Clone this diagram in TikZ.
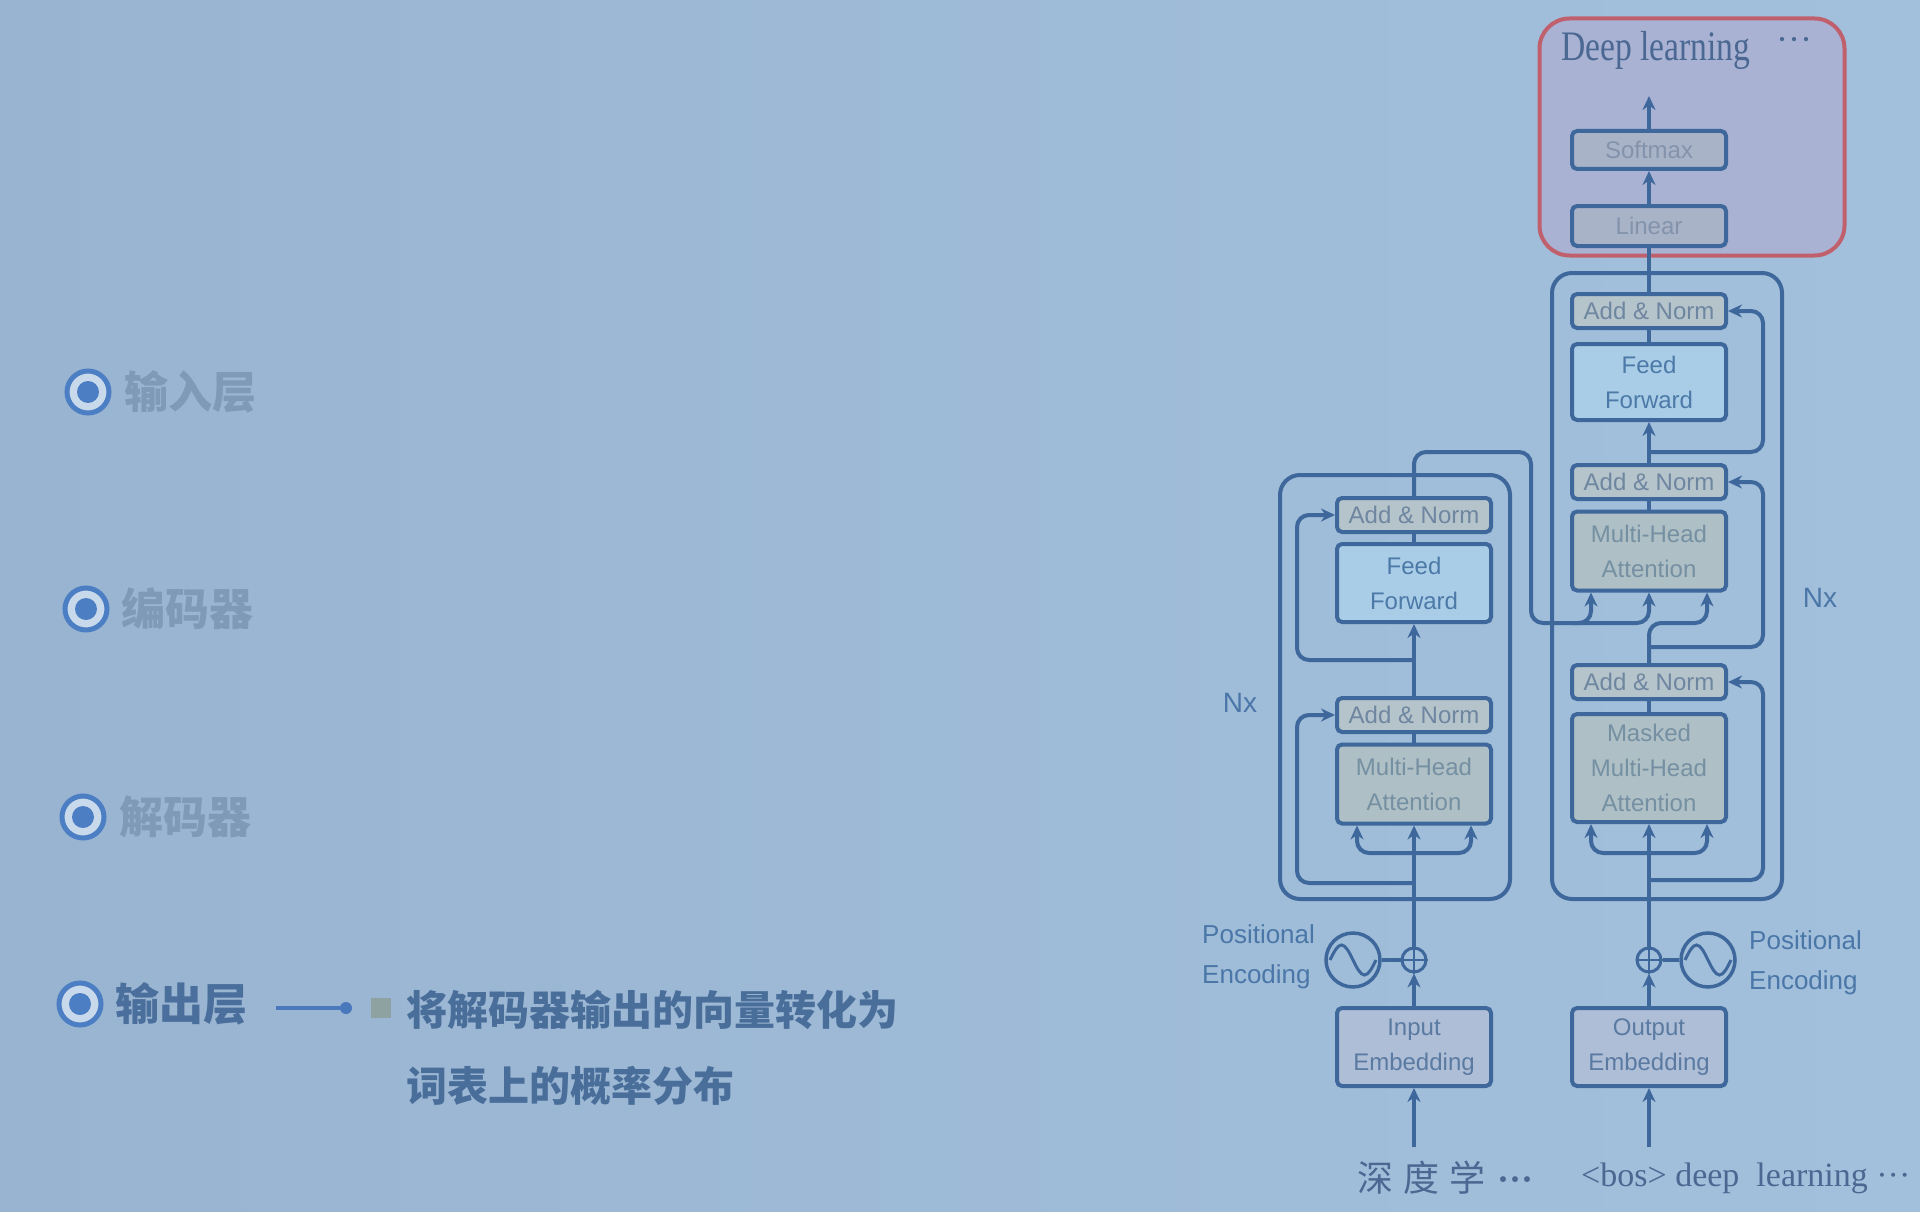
\documentclass[tikz,border=0pt]{standalone}
\usepackage{fontspec}
\setmainfont{Liberation Serif}
\newfontfamily\sansf{Liberation Sans}
\newfontfamily\serifn[FakeStretch=0.8]{Liberation Serif}
\newfontfamily\cjkf{Noto Sans CJK SC}
\usetikzlibrary{arrows.meta,calc}

\definecolor{bgL}{HTML}{99B4D1}
\definecolor{bgR}{HTML}{A2C0DC}
\definecolor{linec}{HTML}{3E679B}
\definecolor{anfill}{HTML}{B5C3CB}
\definecolor{antext}{HTML}{6E86A0}
\definecolor{fffill}{HTML}{A9CDE6}
\definecolor{fftext}{HTML}{4C79A8}
\definecolor{attfill}{HTML}{AEBFC5}
\definecolor{atttext}{HTML}{7590A2}
\definecolor{embfill}{HTML}{AEBED6}
\definecolor{embtext}{HTML}{5A7AA2}
\definecolor{outfill}{HTML}{A9B3C8}
\definecolor{outtext}{HTML}{8393AB}
\definecolor{redfill}{HTML}{A9B2D3}
\definecolor{redstroke}{HTML}{C0606C}
\definecolor{dltext}{HTML}{4A6892}
\definecolor{petext}{HTML}{4B77A8}
\definecolor{bulletblue}{HTML}{4C7EC3}
\definecolor{bulletin}{HTML}{C9D9EC}
\definecolor{labelgrey}{HTML}{7E9AB6}
\definecolor{labeldark}{HTML}{4A6F9C}
\definecolor{descblue}{HTML}{4A6E9A}
\definecolor{squaregrey}{HTML}{8EA2A2}
\definecolor{linkblue}{HTML}{4A78BC}

\begin{document}
\begin{tikzpicture}[x=1pt,y=-1pt,
  blk/.style={draw=linec, line width=4pt, rounded corners=5pt, minimum width=154pt,
    inner sep=0pt, font=\sansf\fontsize{24}{35}\selectfont, align=center},
  an/.style={blk, fill=anfill, text=antext, minimum height=34pt},
  ffbox/.style={blk, fill=fffill, text=fftext},
  att/.style={blk, fill=attfill, text=atttext},
  emb/.style={blk, fill=embfill, text=embtext, minimum height=78pt},
  outbox/.style={blk, fill=outfill, text=outtext},
  wire/.style={draw=linec, line width=4pt, rounded corners=12pt},
  arr/.style={wire, -{Stealth[length=14pt,width=13pt]}},
  frame/.style={draw=linec, line width=4pt, rounded corners=20pt},
  addc/.style={circle, draw=linec, line width=3pt, minimum size=24pt, inner sep=0pt},
  sinec/.style={circle, draw=linec, line width=3.5pt, minimum size=54pt, inner sep=0pt},
  side/.style={font=\sansf\fontsize{26}{40}\selectfont, text=petext, align=left, inner sep=0pt},
  ring/.style={circle, draw=bulletblue, line width=5pt, fill=bulletin, minimum size=42pt, inner sep=0pt},
  item/.style={anchor=west, inner sep=0pt, font=\cjkf\bfseries\fontsize{44}{44}\selectfont, text=labelgrey},
  desc/.style={anchor=west, inner sep=0pt, font=\cjkf\bfseries\fontsize{41}{41}\selectfont, text=descblue}
]
\useasboundingbox (0,0) rectangle (1920,1212);
\shade[left color=bgL, right color=bgR] (0,0) rectangle (1920,1212);

% ---- left column: list of parts ----
\node[ring] (b1) at (88,392) {};
\fill[bulletblue] (b1.center) circle (11pt);
\node[item] (l1) at (124,392) {输入层};
\node[ring] (b2) at (86,609) {};
\fill[bulletblue] (b2.center) circle (11pt);
\node[item] (l2) at (121,609) {编码器};
\node[ring] (b3) at (83,817) {};
\fill[bulletblue] (b3.center) circle (11pt);
\node[item] (l3) at (119,817) {解码器};
\node[ring] (b4) at (80,1004) {};
\fill[bulletblue] (b4.center) circle (11pt);
\node[item, text=labeldark] (l4) at (115,1004) {输出层};

\coordinate (c0) at (276,1008);
\coordinate (c1) at (346,1008);
\draw[linkblue, line width=4pt] (c0) -- (c1);
\fill[linkblue] (c1) circle (6pt);
\node[fill=squaregrey, minimum size=20pt, inner sep=0pt] (sq) at (381,1008) {};
\node[desc] (d1) at (406,1010) {将解码器输出的向量转化为};
\node[desc] (d2) at (406,1086) {词表上的概率分布};

% ---- output head ----
\node[draw=redstroke, line width=4pt, fill=redfill, rounded corners=30pt,
      minimum width=305pt, minimum height=237pt] (head) at (1692,137) {};
\node[anchor=west, inner sep=0pt, font=\serifn\fontsize{42}{42}\selectfont, text=dltext] (dl) at (1561,50) {Deep learning};
\node[anchor=west, inner sep=0pt, font=\fontsize{36}{36}\selectfont, text=dltext] (dldots) at (1776,44) {···};
\node[outbox, minimum height=40pt] (lin) at (1649,226) {Linear};
\node[outbox, minimum height=38pt] (soft) at (1649,150) {Softmax};
\coordinate (topout) at (1649,96);

% ---- stack frames ----
\node[frame, minimum width=230pt, minimum height=626pt] (dframe) at (1667,586) {};
\node[frame, minimum width=230pt, minimum height=424pt] (eframe) at (1395,687) {};

% ---- encoder ----
\node[an] (eAN2) at (1414,515) {Add \& Norm};
\node[ffbox, minimum height=78pt] (eFF) at (1414,583) {Feed\\Forward};
\node[an] (eAN1) at (1414,715) {Add \& Norm};
\node[att, minimum height=79pt] (eMHA) at (1414,784) {Multi-Head\\Attention};
\node[emb] (eEmb) at (1414,1047) {Input\\Embedding};
\node[addc] (ePlus) at (1414,960) {};
\node[sinec] (eSin) at (1353,960) {};
\node[side, anchor=west] (ePE) at (1202,957) {Positional\\Encoding};
\node[font=\sansf\fontsize{28}{28}\selectfont, text=petext, inner sep=0pt] (eNx) at (1240,703) {Nx};

% ---- decoder ----
\node[an] (dAN3) at (1649,311) {Add \& Norm};
\node[ffbox, minimum height=76pt] (dFF) at (1649,382) {Feed\\Forward};
\node[an] (dAN2) at (1649,482) {Add \& Norm};
\node[att, minimum height=79pt] (dMHA) at (1649,551) {Multi-Head\\Attention};
\node[an] (dAN1) at (1649,682) {Add \& Norm};
\node[att, minimum height=108pt] (dMMHA) at (1649,768) {Masked\\Multi-Head\\Attention};
\node[emb] (dEmb) at (1649,1047) {Output\\Embedding};
\node[addc] (dPlus) at (1649,960) {};
\node[sinec] (dSin) at (1708,960) {};
\node[side, anchor=west] (dPE) at (1749,963) {Positional\\Encoding};
\node[font=\sansf\fontsize{28}{28}\selectfont, text=petext, inner sep=0pt] (dNx) at (1820,598) {Nx};

% ---- inputs at the bottom ----
\node[anchor=west, inner sep=0pt, font=\cjkf\fontsize{36}{36}\selectfont, text=dltext] (srcTxt) at (1357,1178) {深\hspace{10pt}度\hspace{10pt}学\hspace{12pt}{\rmfamily\bfseries ···}};
\node[anchor=west, inner sep=0pt, font=\fontsize{34}{34}\selectfont, text=dltext] (tgtTxt) at (1581,1178) {<bos> deep\ \ learning ···};
\coordinate (eIn) at (1414,1147);
\coordinate (dIn) at (1649,1147);

% ---- positional encoding symbols ----
\foreach \c in {ePlus,dPlus}{
  \draw[draw=linec, line width=2.5pt] (\c.north) -- (\c.south) (\c.west) -- (\c.east);
}
\foreach \c in {eSin,dSin}{
  \draw[draw=linec, line width=3pt] ($(\c.center)+(-23,0)$) sin ++(11.5,-15) cos ++(11.5,15) sin ++(11.5,15) cos ++(11.5,-15);
}
\draw[wire] (eSin) -- (ePlus);
\draw[wire] (dPlus) -- (dSin);

% ---- encoder wiring ----
\draw[arr] (eIn) -- (eEmb);
\draw[arr] (eEmb) -- (ePlus);
\draw[arr] (ePlus) -- (eMHA);
\coordinate (eSplit) at (1414,853);
\draw[arr] (eSplit) -| ([xshift=-57pt]eMHA.south);
\draw[arr] (eSplit) -| ([xshift=57pt]eMHA.south);
\coordinate (eR1) at (1414,883);
\draw[arr] (eR1) -- ++(-117,0) |- (eAN1.west);
\draw[wire] (eMHA) -- (eAN1);
\draw[arr] (eAN1) -- (eFF);
\coordinate (eR2) at (1414,660);
\draw[arr] (eR2) -- ++(-117,0) |- (eAN2.west);
\draw[wire] (eFF) -- (eAN2);
% encoder output into the decoder attention (keys and values)
\coordinate (encUp) at (1414,452);
\coordinate (encTurn) at (1531,452);
\coordinate (encDown) at (1531,623);
\coordinate (encIn) at (1649,623);
\draw[arr] (eAN2.north) -- (encUp) -- (encTurn) -- (encDown) -- (encIn) -- (dMHA.south);
\coordinate (kv) at (1572,623);
\draw[arr] (kv) -| ([xshift=-58pt]dMHA.south);

% ---- decoder wiring ----
\draw[arr] (dIn) -- (dEmb);
\draw[arr] (dEmb) -- (dPlus);
\draw[arr] (dPlus) -- (dMMHA);
\coordinate (dSplit) at (1649,853);
\draw[arr] (dSplit) -| ([xshift=-58pt]dMMHA.south);
\draw[arr] (dSplit) -| ([xshift=58pt]dMMHA.south);
\coordinate (dR1) at (1649,880);
\draw[arr] (dR1) -- ++(114,0) |- (dAN1.east);
\draw[wire] (dMMHA) -- (dAN1);
\draw[arr] (dAN1.north) -- ++(0,-40) -| ([xshift=58pt]dMHA.south);
\coordinate (dR2) at (1649,647);
\draw[arr] (dR2) -- ++(114,0) |- (dAN2.east);
\draw[wire] (dMHA) -- (dAN2);
\draw[arr] (dAN2) -- (dFF);
\coordinate (dR3) at (1649,452);
\draw[arr] (dR3) -- ++(114,0) |- (dAN3.east);
\draw[wire] (dFF) -- (dAN3);
\draw[wire] (dAN3) -- (lin);
\draw[arr] (lin) -- (soft);
\draw[arr] (soft) -- (topout);
\end{tikzpicture}
\end{document}
